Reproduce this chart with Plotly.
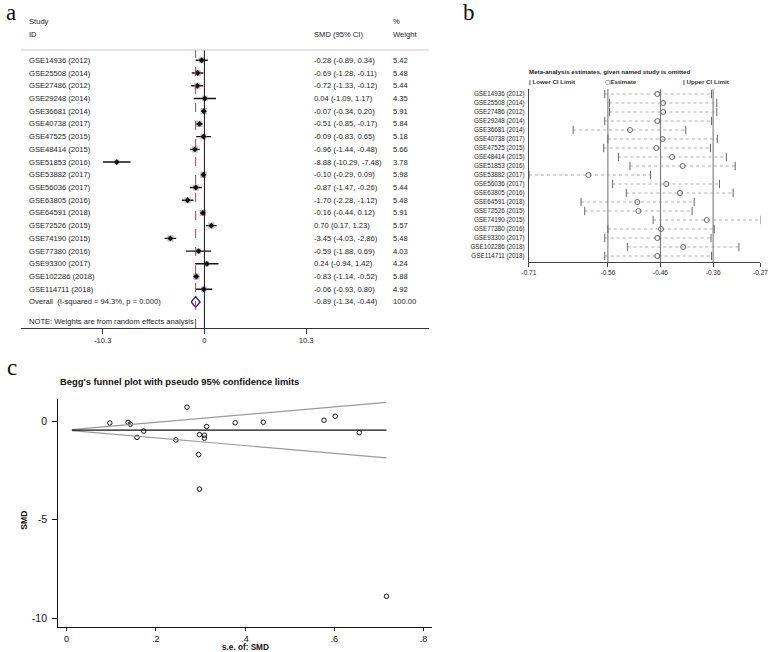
import plotly.graph_objects as go

W, H = 778, 652

# ---------------- data ----------------
studies = ["GSE14936 (2012)", "GSE25508 (2014)", "GSE27486 (2012)", "GSE29248 (2014)",
           "GSE36681 (2014)", "GSE40738 (2017)", "GSE47525 (2015)", "GSE48414 (2015)",
           "GSE51853 (2016)", "GSE53882 (2017)", "GSE56036 (2017)", "GSE63805 (2016)",
           "GSE64591 (2018)", "GSE72526 (2015)", "GSE74190 (2015)", "GSE77380 (2016)",
           "GSE93300 (2017)", "GSE102286 (2018)", "GSE114711 (2018)"]
smd = [-0.28, -0.69, -0.72, 0.04, -0.07, -0.51, -0.09, -0.96, -8.88, -0.10,
       -0.87, -1.70, -0.16, 0.70, -3.45, -0.59, 0.24, -0.83, -0.06]
ci_low = [-0.89, -1.28, -1.33, -1.09, -0.34, -0.85, -0.83, -1.44, -10.29, -0.29,
          -1.47, -2.28, -0.44, 0.17, -4.03, -1.88, -0.94, -1.14, -0.93]
ci_high = [0.34, -0.11, -0.12, 1.17, 0.20, -0.17, 0.65, -0.48, -7.48, 0.09,
           -0.26, -1.12, 0.12, 1.23, -2.86, 0.69, 1.42, -0.52, 0.80]
weights = [5.42, 5.48, 5.44, 4.35, 5.91, 5.84, 5.18, 5.66, 3.78, 5.98,
           5.44, 5.48, 5.91, 5.57, 5.48, 4.03, 4.24, 5.88, 4.92]
overall = [-0.89, -1.34, -0.44]          # estimate, lower, upper
overall_weight = "100.00"
overall_label = "Overall  (I-squared = 94.3%, p = 0.000)"
note_label = "NOTE: Weights are from random effects analysis"
forest_ticks = [-10.3, 0, 10.3]
forest_ticktext = ["-10.3", "0", "10.3"]

# leave-one-out sensitivity (panel b)
loo_est = [-0.466, -0.455, -0.455, -0.466, -0.518, -0.456, -0.468, -0.438, -0.418, -0.597,
           -0.449, -0.423, -0.504, -0.502, -0.372, -0.459, -0.466, -0.417, -0.466]
loo_low = [-0.566, -0.557, -0.557, -0.566, -0.626, -0.560, -0.568, -0.540, -0.518, -0.710,
           -0.551, -0.525, -0.611, -0.604, -0.474, -0.560, -0.566, -0.523, -0.566]
loo_high = [-0.363, -0.353, -0.353, -0.363, -0.412, -0.352, -0.365, -0.335, -0.318, -0.479,
            -0.348, -0.322, -0.396, -0.400, -0.270, -0.358, -0.364, -0.311, -0.363]
loo_ref = [-0.56, -0.46, -0.36]
loo_ticks = [-0.71, -0.56, -0.46, -0.36, -0.27]
loo_ticktext = ["-0.71", "-0.56", "-0.46", "-0.36", "-0.27"]

# funnel (panel c)
se = [0.314, 0.298, 0.309, 0.577, 0.138, 0.173, 0.378, 0.245, 0.717, 0.097,
      0.309, 0.296, 0.143, 0.270, 0.298, 0.656, 0.602, 0.158, 0.441]
funnel_theta = -0.46
funnel_se_range = [0.012, 0.717]
funnel_xticks = [0, 0.2, 0.4, 0.6, 0.8]
funnel_xticktext = ["0", ".2", ".4", ".6", ".8"]
funnel_yticks = [0, -5, -10]
funnel_yticktext = ["0", "-5", "-10"]

# ---------------- helpers ----------------
def fx(p):
    return p / W

def fy(p):
    return 1 - p / H

SANS = "Liberation Sans, Arial, sans-serif"
SERIF = "Liberation Serif, Times New Roman, serif"
TXT = "#222222"

rows = list(range(len(studies)))
overall_row = len(studies)
note_row = len(studies) + 1.5

fig = go.Figure()
annotations = []
shapes = []

# ---------------- panel a : forest ----------------
box_sizes = [2.6 * (w ** 0.5) for w in weights]
fig.add_trace(go.Scatter(
    x=smd, y=rows, mode="markers", xaxis="x", yaxis="y",
    marker=dict(symbol="square", size=box_sizes, color="#a0a0a0", line=dict(width=0)),
    error_x=dict(type="data", symmetric=False,
                 array=[h - e for h, e in zip(ci_high, smd)],
                 arrayminus=[e - l for e, l in zip(smd, ci_low)],
                 width=0, thickness=1.4, color="#111111"),
    hoverinfo="skip"))
fig.add_trace(go.Scatter(
    x=smd, y=rows, mode="markers", xaxis="x", yaxis="y",
    marker=dict(symbol="diamond", size=4.5, color="#111111"), hoverinfo="skip"))
# overall diamond
dh = 0.42
fig.add_trace(go.Scatter(
    x=[overall[1], overall[0], overall[2], overall[0], overall[1]],
    y=[overall_row, overall_row - dh, overall_row, overall_row + dh, overall_row],
    mode="lines", fill="toself", fillcolor="white", xaxis="x", yaxis="y",
    line=dict(color="#20208a", width=1.3), hoverinfo="skip"))

# vertical reference lines
shapes.append(dict(type="line", xref="x", yref="paper", x0=0, x1=0,
                   y0=fy(328), y1=fy(50), line=dict(color="#111111", width=1)))
shapes.append(dict(type="line", xref="x", yref="paper", x0=overall[0], x1=overall[0],
                   y0=fy(328), y1=fy(50), line=dict(color="#b5403a", width=1, dash="dash")))
# header rule
shapes.append(dict(type="line", xref="paper", yref="paper", x0=fx(14), x1=fx(430),
                   y0=fy(50), y1=fy(50), line=dict(color="#c8c8c8", width=1)))

FS_A = 7.6
for i, s in enumerate(studies):
    annotations.append(dict(x=fx(20), y=i, xref="paper", yref="y", text=s, showarrow=False,
                            xanchor="left", yanchor="middle", font=dict(size=FS_A, color=TXT, family=SANS)))
    annotations.append(dict(x=fx(310.5), y=i, xref="paper", yref="y",
                            text="%.2f (%.2f, %.2f)" % (smd[i], ci_low[i], ci_high[i]),
                            showarrow=False, xanchor="left", yanchor="middle",
                            font=dict(size=FS_A, color=TXT, family=SANS)))
    annotations.append(dict(x=fx(392), y=i, xref="paper", yref="y", text="%.2f" % weights[i],
                            showarrow=False, xanchor="left", yanchor="middle",
                            font=dict(size=FS_A, color=TXT, family=SANS)))
annotations.append(dict(x=fx(20), y=overall_row, xref="paper", yref="y", text=overall_label,
                        showarrow=False, xanchor="left", yanchor="middle",
                        font=dict(size=FS_A, color=TXT, family=SANS)))
annotations.append(dict(x=fx(310.5), y=overall_row, xref="paper", yref="y",
                        text="%.2f (%.2f, %.2f)" % (overall[0], overall[1], overall[2]),
                        showarrow=False, xanchor="left", yanchor="middle",
                        font=dict(size=FS_A, color=TXT, family=SANS)))
annotations.append(dict(x=fx(392), y=overall_row, xref="paper", yref="y", text=overall_weight,
                        showarrow=False, xanchor="left", yanchor="middle",
                        font=dict(size=FS_A, color=TXT, family=SANS)))
annotations.append(dict(x=fx(20), y=note_row, xref="paper", yref="y", text=note_label,
                        showarrow=False, xanchor="left", yanchor="middle",
                        font=dict(size=FS_A, color=TXT, family=SANS)))
for txt, x, y in [("Study", 20, 21.5), ("ID", 20, 34.3), ("SMD (95% CI)", 310.5, 34.3),
                  ("%", 392, 21.5), ("Weight", 392, 34.3)]:
    annotations.append(dict(x=fx(x), y=fy(y), xref="paper", yref="paper", text=txt,
                            showarrow=False, xanchor="left", yanchor="middle",
                            font=dict(size=FS_A, color=TXT, family=SANS)))

# ---------------- panel b : leave-one-out ----------------
lx, ly = [], []
for i in rows:
    lx += [loo_low[i], loo_high[i], None]
    ly += [i, i, None]
fig.add_trace(go.Scatter(x=lx, y=ly, mode="lines", xaxis="x2", yaxis="y2",
                         line=dict(color="#8a8a8a", width=0.7, dash="dot"), hoverinfo="skip"))
fig.add_trace(go.Scatter(x=loo_low + loo_high, y=rows + rows, mode="markers", xaxis="x2", yaxis="y2",
                         marker=dict(symbol="line-ns", size=6, line=dict(width=1, color="#666666")),
                         hoverinfo="skip"))
fig.add_trace(go.Scatter(x=loo_est, y=rows, mode="markers", xaxis="x2", yaxis="y2",
                         marker=dict(symbol="circle-open", size=5, color="#666666", line=dict(width=1)),
                         hoverinfo="skip"))
for v in loo_ref:
    shapes.append(dict(type="line", xref="x2", yref="y2 domain", x0=v, x1=v, y0=0, y1=1,
                       line=dict(color="#7a7a7a", width=1.1), layer="below"))

FS_B = 6.3
annotations.append(dict(x=fx(530), y=fy(71.7), xref="paper", yref="paper",
                        text="<b>Meta-analysis estimates, given named study is omitted</b>",
                        showarrow=False, xanchor="left", yanchor="middle",
                        font=dict(size=6.2, color=TXT, family=SANS)))
circ = "<span style='font-family:DejaVu Sans'>\u25cb</span>"
for txt, x in [("| Lower CI Limit", 530.5), (circ + "Estimate", 607.5), ("| Upper CI Limit", 687)]:
    annotations.append(dict(x=fx(x), y=fy(81), xref="paper", yref="paper", text="<b>" + txt + "</b>",
                            showarrow=False, xanchor="left", yanchor="middle",
                            font=dict(size=6.2, color="#333333", family=SANS)))

# ---------------- panel c : funnel ----------------
fig.add_trace(go.Scatter(x=se, y=smd, mode="markers", xaxis="x3", yaxis="y3",
                         marker=dict(symbol="circle-open", size=4.5, color="#111111", line=dict(width=1)),
                         hoverinfo="skip"))
fig.add_trace(go.Scatter(x=funnel_se_range, y=[funnel_theta + 1.96 * s for s in funnel_se_range],
                         mode="lines", xaxis="x3", yaxis="y3",
                         line=dict(color="#9a9a9a", width=1.2), hoverinfo="skip"))
fig.add_trace(go.Scatter(x=funnel_se_range, y=[funnel_theta - 1.96 * s for s in funnel_se_range],
                         mode="lines", xaxis="x3", yaxis="y3",
                         line=dict(color="#9a9a9a", width=1.2), hoverinfo="skip"))
fig.add_trace(go.Scatter(x=funnel_se_range, y=[funnel_theta, funnel_theta],
                         mode="lines", xaxis="x3", yaxis="y3",
                         line=dict(color="#111111", width=1.3), hoverinfo="skip"))

annotations.append(dict(x=fx(52), y=fy(381.5), xref="paper", yref="paper",
                        text="<b>Begg's funnel plot with pseudo 95% confidence limits</b>",
                        showarrow=False, xanchor="left", yanchor="middle",
                        font=dict(size=9.4, color="#111111", family=SANS)))
annotations.append(dict(x=fx(243), y=fy(647.5), xref="paper", yref="paper", text="<b>s.e. of: SMD</b>",
                        showarrow=False, xanchor="center", yanchor="middle", borderpad=0,
                        font=dict(size=8.2, color="#111111", family=SANS)))
annotations.append(dict(x=fx(17), y=fy(520), xref="paper", yref="paper", text="<b>SMD</b>",
                        showarrow=False, xanchor="center", yanchor="middle", textangle=-90,
                        font=dict(size=8.6, color="#111111", family=SANS)))

# panel letters
for txt, x, y in [("a", 4.5, 12), ("b", 471, 12), ("c", 5, 367)]:
    annotations.append(dict(x=fx(x), y=fy(y), xref="paper", yref="paper", text=txt,
                            showarrow=False, xanchor="center", yanchor="middle",
                            font=dict(size=23, color="#111111", family=SERIF)))

# ---------------- axes ----------------
ax_common = dict(showgrid=False, zeroline=False)

fig.update_layout(
    width=W, height=H, margin=dict(l=0, r=0, t=0, b=0), autosize=False,
    paper_bgcolor="white", plot_bgcolor="white", showlegend=False,
    font=dict(family=SANS, color=TXT),
    xaxis=dict(domain=[fx(14), fx(430)], range=[(14 - 201.3) / 10.07, (430 - 201.3) / 10.07],
               anchor="y", showline=True, linecolor="#333333", linewidth=1,
               ticks="outside", ticklen=5, tickcolor="#333333",
               tickvals=forest_ticks, ticktext=forest_ticktext,
               tickfont=dict(size=7.6, color=TXT, family=SANS), **ax_common),
    yaxis=dict(domain=[fy(328), fy(50)], range=[(328 - 60.3) / 12.72, (50 - 60.3) / 12.72],
               anchor="x", visible=False, **ax_common),
    xaxis2=dict(domain=[fx(532.2), fx(768.3)], range=[-0.71, -0.27], anchor="y2",
                showline=True, linecolor="#444444", linewidth=1,
                ticks="outside", ticklen=4, tickcolor="#444444",
                tickvals=loo_ticks, ticktext=loo_ticktext,
                tickfont=dict(size=6.5, color=TXT, family=SANS), **ax_common),
    yaxis2=dict(domain=[fy(262.3), fy(89.3)], range=[(262.3 - 94) / 9.0, (89.3 - 94) / 9.0],
                anchor="x2", showline=True, linecolor="#444444", linewidth=1,
                ticks="", tickvals=rows, ticktext=studies, ticklabelstandoff=2,
                tickfont=dict(size=FS_B, color=TXT, family=SANS), **ax_common),
    xaxis3=dict(domain=[fx(52.3), fx(433.3)], range=[(52.3 - 60.7) / 455, (433.3 - 60.7) / 455],
                anchor="y3", showline=True, linecolor="#111111", linewidth=1.3,
                ticks="outside", ticklen=3, tickcolor="#111111", tickwidth=1.3,
                tickvals=funnel_xticks, ticktext=funnel_xticktext,
                tickfont=dict(size=9, color="#111111", family=SANS), **ax_common),
    yaxis3=dict(domain=[fy(627.3), fy(399)], range=[-(627.3 - 421) / 19.74, (421 - 399) / 19.74],
                anchor="x3", showline=True, linecolor="#111111", linewidth=1.3,
                ticks="outside", ticklen=5, tickcolor="#111111", tickwidth=1.3,
                tickvals=funnel_yticks, ticktext=funnel_yticktext, ticklabelstandoff=3,
                tickfont=dict(size=10.5, color="#111111", family=SANS), **ax_common),
    annotations=annotations, shapes=shapes,
)

fig.write_html("out.html", config={"displayModeBar": False},
               post_script="document.body.style.margin='0px';document.body.style.overflow='hidden';")
